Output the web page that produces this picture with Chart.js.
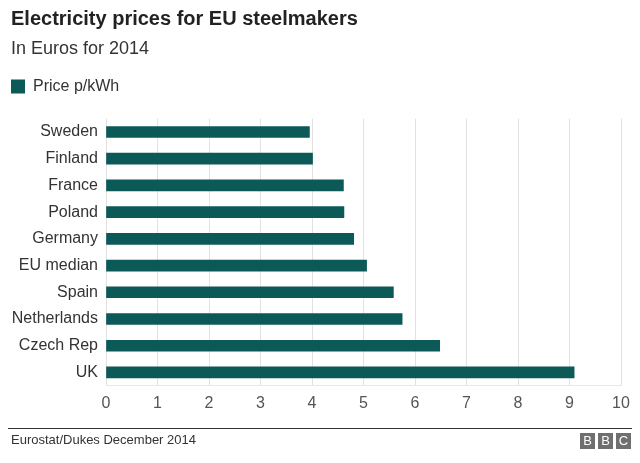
<!DOCTYPE html>
<html>
<head>
<meta charset="utf-8">
<script src="https://cdn.jsdelivr.net/npm/chart.js@4"></script>
<style>
  html, body { margin: 0; padding: 0; background: #fff; }
  #wrap { position: relative; width: 640px; height: 463px; overflow: hidden; }
  #c { position: absolute; left: 0; top: 0; }
  #rule { position: absolute; left: 8px; top: 428px; width: 624px; height: 1px; background: #333; }
  #source { position: absolute; left: 11px; top: 432px; font: 13px "Liberation Sans", Arial, sans-serif; color: #333; }
  #bbc { position: absolute; left: 580px; top: 433px; display: flex; gap: 3px; }
  #bbc span { display: block; width: 15px; height: 16px; background: #6f6f6f; color: #fff; font: 13px "Liberation Sans", Arial, sans-serif; text-align: center; line-height: 16px; }
</style>
</head>
<body>
<div id="wrap">
  <canvas id="c" width="640" height="463"></canvas>
  <div id="rule"></div>
  <div id="source">Eurostat/Dukes December 2014</div>
  <div id="bbc"><span>B</span><span>B</span><span>C</span></div>
</div>
<script>
const titleText = "Electricity prices for EU steelmakers";
const subtitleText = "In Euros for 2014";
const seriesName = "Price p/kWh";
const categories = ["Sweden", "Finland", "France", "Poland", "Germany", "EU median", "Spain", "Netherlands", "Czech Rep", "UK"];
const prices = [3.95, 4.01, 4.61, 4.62, 4.81, 5.06, 5.58, 5.75, 6.48, 9.09];
const xTicks = [0, 1, 2, 3, 4, 5, 6, 7, 8, 9, 10];

const FONT = '"Liberation Sans", Arial, sans-serif';
const barColor = '#0c5a57';

const legendGap = {
  id: 'legendGap',
  beforeInit(chart) {
    const origFit = chart.legend.fit;
    chart.legend.fit = function () {
      origFit.bind(chart.legend)();
      this.height += 14;
    };
  }
};

new Chart(document.getElementById('c'), {
  type: 'bar',
  data: {
    labels: categories,
    datasets: [{
      label: seriesName,
      data: prices,
      backgroundColor: barColor,
      borderWidth: 0,
      barThickness: 11
    }]
  },
  plugins: [legendGap],
  options: {
    indexAxis: 'y',
    responsive: false,
    animation: false,
    layout: { padding: { left: 11, right: 19, top: 0, bottom: 42 } },
    plugins: {
      title: {
        display: true, text: titleText, align: 'start', color: '#222',
        font: { family: FONT, size: 20, weight: 'bold' },
        padding: { top: 7, bottom: 4 }
      },
      subtitle: {
        display: true, text: subtitleText, align: 'start', color: '#333',
        font: { family: FONT, size: 18 },
        padding: { top: 3, bottom: 19 }
      },
      legend: {
        display: true, align: 'start',
        labels: {
          color: '#333', boxWidth: 14, boxHeight: 14, padding: 0,
          font: { family: FONT, size: 16 }
        }
      },
      tooltip: { enabled: false }
    },
    scales: {
      x: {
        min: 0, max: 10,
        afterBuildTicks(scale) { scale.ticks = xTicks.map(v => ({ value: v })); },
        grid: { color: '#e2e2e2', drawTicks: false },
        border: { display: true, color: '#e8e8e8' },
        ticks: { color: '#555', padding: 8, font: { family: FONT, size: 16 } }
      },
      y: {
        afterFit(scale) { scale.width = 95; },
        grid: { display: false, drawTicks: false },
        border: { display: false },
        ticks: { color: '#333', padding: 8, font: { family: FONT, size: 16 } }
      }
    }
  }
});
</script>
</body>
</html>
